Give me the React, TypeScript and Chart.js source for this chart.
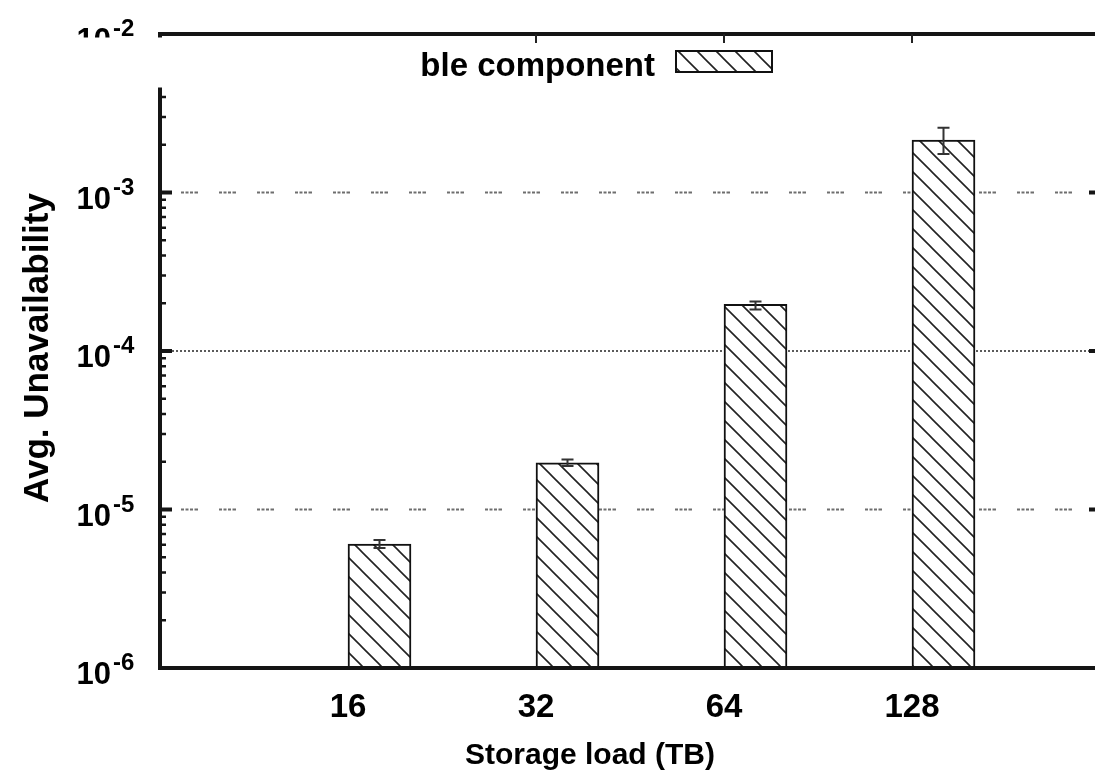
import React, { useEffect, useRef } from 'react';
import { Chart, registerables } from 'chart.js';

Chart.register(...registerables);

// ---- data ----
const categories = ['16', '32', '64', '128'];
const categoryPositions = [1, 2, 3, 4];
const hiddenSeriesValues: (number | null)[] = [null, null, null, null];
const componentValues = [6.05e-6, 1.97e-5, 1.97e-4, 2.14e-3];
const componentErrLow = [5.71e-6, 1.88e-5, 1.83e-4, 1.75e-3];
const componentErrHigh = [6.43e-6, 2.07e-5, 2.05e-4, 2.56e-3];
const yDecades = [-6, -5, -4, -3, -2];
const gridDecades = [-5, -4, -3];
const xTitle = 'Storage load (TB)';
const yTitle = 'Avg. Unavailability';
const legendText = 'ble component';

const FONT = '"Liberation Sans", Arial, Helvetica, sans-serif';

function makeHatch(ctx: CanvasRenderingContext2D) {
  const s = 19;
  const c = document.createElement('canvas');
  c.width = s;
  c.height = s;
  const g = c.getContext('2d')!;
  g.fillStyle = '#ffffff';
  g.fillRect(0, 0, s, s);
  g.strokeStyle = '#222222';
  g.lineWidth = 1.6;
  g.beginPath();
  g.moveTo(-3, -3);
  g.lineTo(s + 3, s + 3);
  g.moveTo(-3, s - 3);
  g.lineTo(3, s + 3);
  g.moveTo(s - 3, -3);
  g.lineTo(s + 3, 3);
  g.stroke();
  return ctx.createPattern(c, 'repeat')!;
}

const decorPlugin = {
  id: 'decor',
  beforeDraw(chart: any) {
    const { ctx, width, height } = chart;
    ctx.save();
    ctx.fillStyle = '#ffffff';
    ctx.fillRect(0, 0, width, height);
    ctx.restore();
  },
  beforeDatasetsDraw(chart: any) {
    const { ctx, chartArea: a, scales } = chart;
    const y = scales.y;
    ctx.save();
    for (const d of gridDecades) {
      const py = y.getPixelForValue(Math.pow(10, d));
      ctx.beginPath();
      if (d === -4) {
        ctx.strokeStyle = '#5a5a5a';
        ctx.lineWidth = 2;
        ctx.setLineDash([2, 2]);
        ctx.lineDashOffset = 0;
        ctx.moveTo(a.left + 12, py);
      } else {
        ctx.strokeStyle = '#6e6e6e';
        ctx.lineWidth = 2.2;
        ctx.setLineDash([3, 1.5, 3, 1.5, 3, 1.5, 3.5, 21]);
        ctx.lineDashOffset = 17;
        ctx.moveTo(a.left, py);
      }
      ctx.lineTo(a.right, py);
      ctx.stroke();
    }
    ctx.restore();
  },
  afterDatasetsDraw(chart: any) {
    const { ctx, chartArea: a, scales } = chart;
    const x = scales.x;
    const y = scales.y;
    const meta = chart.getDatasetMeta(1);
    ctx.save();

    // error bars
    ctx.strokeStyle = '#333333';
    ctx.lineWidth = 2;
    meta.data.forEach((bar: any, i: number) => {
      const cx = bar.x;
      const yl = y.getPixelForValue(componentErrLow[i]);
      const yh = y.getPixelForValue(componentErrHigh[i]);
      ctx.beginPath();
      ctx.moveTo(cx, yl);
      ctx.lineTo(cx, yh);
      ctx.moveTo(cx - 6, yl);
      ctx.lineTo(cx + 6, yl);
      ctx.moveTo(cx - 6, yh);
      ctx.lineTo(cx + 6, yh);
      ctx.stroke();
    });

    // axes frame
    ctx.strokeStyle = '#151515';
    ctx.lineWidth = 4;
    ctx.beginPath();
    ctx.moveTo(a.left, a.top);
    ctx.lineTo(a.left, a.bottom + 2);
    ctx.moveTo(a.left - 2, a.bottom);
    ctx.lineTo(a.right, a.bottom);
    ctx.moveTo(a.left - 2, a.top);
    ctx.lineTo(a.right, a.top);
    ctx.moveTo(a.right, a.top);
    ctx.lineTo(a.right, a.bottom);
    ctx.stroke();

    // y ticks (major + minor, mirrored)
    for (let k = 0; k < yDecades.length; k++) {
      const d = yDecades[k];
      const py = y.getPixelForValue(Math.pow(10, d));
      ctx.lineWidth = 4;
      ctx.beginPath();
      ctx.moveTo(a.left, py);
      ctx.lineTo(a.left + 12, py);
      ctx.moveTo(a.right, py);
      ctx.lineTo(a.right - 11, py);
      ctx.stroke();
      if (k < yDecades.length - 1) {
        ctx.lineWidth = 2.5;
        ctx.beginPath();
        for (let m = 2; m <= 9; m++) {
          const pm = y.getPixelForValue(m * Math.pow(10, d));
          ctx.moveTo(a.left, pm);
          ctx.lineTo(a.left + 6, pm);
          ctx.moveTo(a.right, pm);
          ctx.lineTo(a.right - 4, pm);
        }
        ctx.stroke();
      }
    }

    // y tick labels 10^d
    ctx.fillStyle = '#000000';
    for (const d of yDecades) {
      const py = y.getPixelForValue(Math.pow(10, d));
      ctx.font = `bold 31px ${FONT}`;
      ctx.textAlign = 'right';
      ctx.textBaseline = 'alphabetic';
      ctx.fillText('10', a.left - 49, py + 16);
      ctx.font = `bold 24px ${FONT}`;
      ctx.textAlign = 'left';
      ctx.fillText('-' + String(-d), a.left - 47, py + 2);
    }

    // x tick labels
    ctx.font = `bold 33px ${FONT}`;
    ctx.textAlign = 'center';
    ctx.textBaseline = 'alphabetic';
    categories.forEach((lab, i) => {
      ctx.fillText(lab, x.getPixelForValue(categoryPositions[i]), a.bottom + 49);
    });

    // x title
    ctx.font = `bold 30px ${FONT}`;
    ctx.fillText(xTitle, 590, a.bottom + 96);

    // y title
    ctx.save();
    ctx.translate(38, 348);
    ctx.rotate(-Math.PI / 2);
    ctx.font = `bold 35px ${FONT}`;
    ctx.textAlign = 'center';
    ctx.textBaseline = 'middle';
    ctx.fillText(yTitle, 0, 0);
    ctx.restore();

    // key area (opaque)
    ctx.fillStyle = '#ffffff';
    ctx.fillRect(0, a.top + 3.5, chart.width, 50);

    // top mirrored x ticks
    ctx.strokeStyle = '#222222';
    ctx.lineWidth = 2;
    ctx.beginPath();
    for (let i = 1; i < categoryPositions.length; i++) {
      const px = x.getPixelForValue(categoryPositions[i]);
      ctx.moveTo(px, a.top);
      ctx.lineTo(px, a.top + 9);
    }
    ctx.stroke();

    // key text + sample
    ctx.fillStyle = '#000000';
    ctx.font = `bold 33px ${FONT}`;
    ctx.textAlign = 'right';
    ctx.textBaseline = 'alphabetic';
    ctx.fillText(legendText, 655, 76);
    const ds = chart.data.datasets[1];
    ctx.fillStyle = ds.backgroundColor;
    ctx.fillRect(675, 50, 98, 23);
    ctx.strokeStyle = '#111111';
    ctx.lineWidth = 2;
    ctx.strokeRect(676, 51, 96, 21);

    ctx.restore();
  },
};

export default function App() {
  const ref = useRef<HTMLCanvasElement>(null);
  useEffect(() => {
    const canvas = ref.current!;
    const ctx = canvas.getContext('2d')!;
    const hatch = makeHatch(ctx);
    const chart = new Chart(ctx, {
      type: 'bar',
      data: {
        datasets: [
          {
            label: 'hidden series',
            data: categoryPositions.map((xv, i) => ({ x: xv, y: hiddenSeriesValues[i] })) as any,
            backgroundColor: 'rgba(0,0,0,0)',
            borderWidth: 0,
          },
          {
            label: 'Unavailable component',
            data: categoryPositions.map((xv, i) => ({ x: xv, y: componentValues[i] })) as any,
            backgroundColor: hatch as any,
            borderColor: '#111111',
            borderWidth: 2,
          },
        ],
      },
      options: {
        animation: false,
        responsive: false,
        devicePixelRatio: 1,
        layout: { padding: { left: 160, top: 34, right: 3, bottom: 109 } },
        plugins: { legend: { display: false }, tooltip: { enabled: false } },
        datasets: { bar: { barThickness: 63 } } as any,
        scales: {
          x: { type: 'linear', min: 0, max: 5, display: false, offset: false },
          y: { type: 'logarithmic', min: 1e-6, max: 1e-2, display: false },
        },
      },
      plugins: [decorPlugin as any],
    });
    return () => chart.destroy();
  }, []);

  return (
    <div style={{ position: 'fixed', left: 0, top: 0, width: 1095, height: 777, overflow: 'hidden', background: '#fff' }}>
      <canvas ref={ref} width={1103} height={777} style={{ display: 'block', width: 1103, height: 777 }} />
    </div>
  );
}
